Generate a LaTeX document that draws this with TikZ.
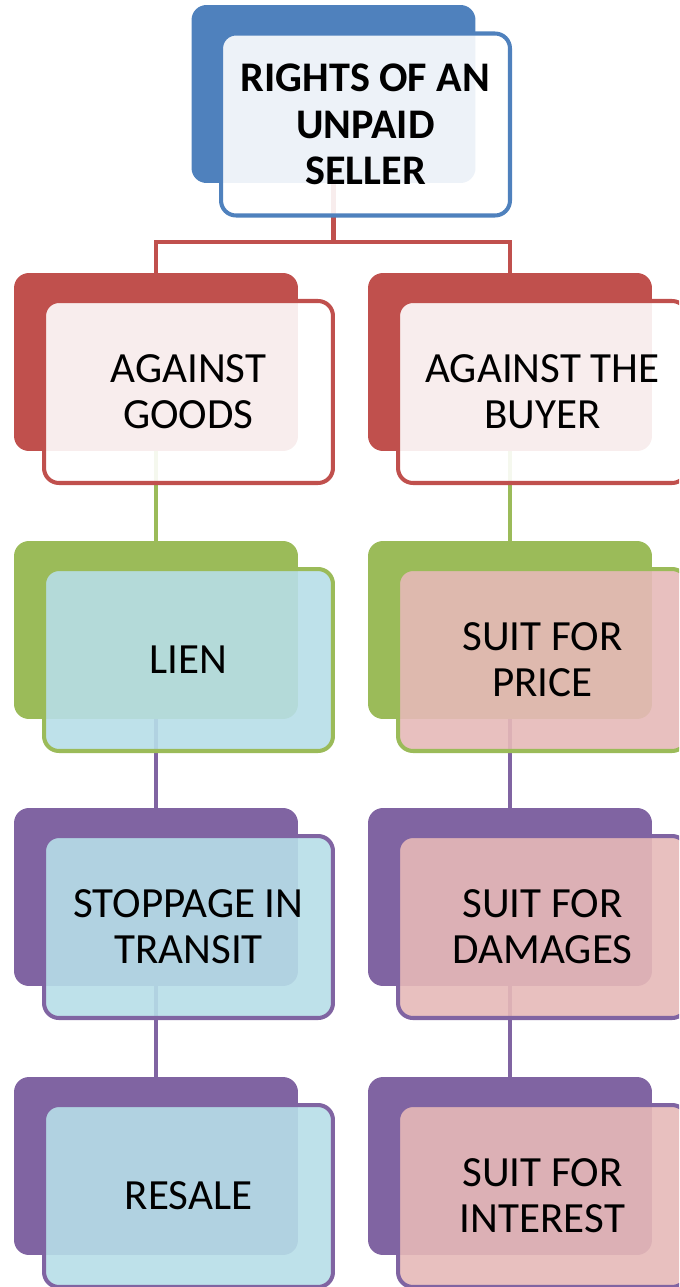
\documentclass[tikz,border=0pt]{standalone}
\usepackage{fontspec}
\setmainfont{Carlito}
\definecolor{cblue}{HTML}{4F81BD}
\definecolor{cred}{HTML}{C0504D}
\definecolor{cgreen}{HTML}{9BBB59}
\definecolor{cpurple}{HTML}{8064A2}
\definecolor{faqua}{HTML}{B7DEE8}
\definecolor{fpink}{HTML}{E6B9B8}
\tikzset{
  backbox/.style={rectangle, rounded corners=8.5pt, minimum width=5.68cm, minimum height=3.56cm, inner sep=0pt, fill=#1},
  frontbox/.style={rectangle, rounded corners=8.5pt, minimum width=5.78cm, minimum height=3.64cm, inner sep=0pt, draw=#1, line width=2.3pt, align=center, font=\fontsize{24.5}{26}\selectfont, fill opacity=0.9, text opacity=1},
  conn/.style={line width=2.3pt, draw=#1},
}
\begin{document}
\begin{tikzpicture}[x=0.02cm,y=-0.02cm]
\useasboundingbox (0,0) rectangle (679,1287);
\clip (0,0) rectangle (679,1287);
% back boxes
\node[backbox=cblue] (b0) at (333.5,94) {};
\node[backbox=cred] (bL1) at (156,362) {};
\node[backbox=cred] (bR1) at (510,362) {};
\node[backbox=cgreen] (bL2) at (156,630) {};
\node[backbox=cgreen] (bR2) at (510,630) {};
\node[backbox=cpurple] (bL3) at (156,897) {};
\node[backbox=cpurple] (bR3) at (510,897) {};
\node[backbox=cpurple] (bL4) at (156,1166) {};
\node[backbox=cpurple] (bR4) at (510,1166) {};
% connectors
\coordinate (j) at (333.5,242);
\draw[conn=cred] (b0.south) -- (j) -| (bL1.north);
\draw[conn=cred] (j) -| (bR1.north);
\draw[conn=cgreen] (bL1.south) -- (bL2.north);
\draw[conn=cgreen] (bR1.south) -- (bR2.north);
\draw[conn=cpurple] (bL2.south) -- (bL3.north);
\draw[conn=cpurple] (bR2.south) -- (bR3.north);
\draw[conn=cpurple] (bL3.south) -- (bL4.north);
\draw[conn=cpurple] (bR3.south) -- (bR4.north);
% front boxes
\node[frontbox=cblue, fill=white, font=\fontsize{24}{26.5}\selectfont\bfseries] (f0) at (365.5,124.5) {RIGHTS OF AN\\UNPAID\\SELLER};
\node[frontbox=cred, fill=white] (fL1) at (188.5,392) {AGAINST\\GOODS};
\node[frontbox=cred, fill=white] (fR1) at (542.5,392) {AGAINST THE\\BUYER};
\node[frontbox=cgreen, fill=faqua] (fL2) at (188.5,660) {LIEN};
\node[frontbox=cgreen, fill=fpink] (fR2) at (542.5,660) {SUIT FOR\\PRICE};
\node[frontbox=cpurple, fill=faqua] (fL3) at (188.5,927) {STOPPAGE IN\\TRANSIT};
\node[frontbox=cpurple, fill=fpink] (fR3) at (542.5,927) {SUIT FOR\\DAMAGES};
\node[frontbox=cpurple, fill=faqua] (fL4) at (188.5,1196) {RESALE};
\node[frontbox=cpurple, fill=fpink] (fR4) at (542.5,1196) {SUIT FOR\\INTEREST};
\end{tikzpicture}
\end{document}
